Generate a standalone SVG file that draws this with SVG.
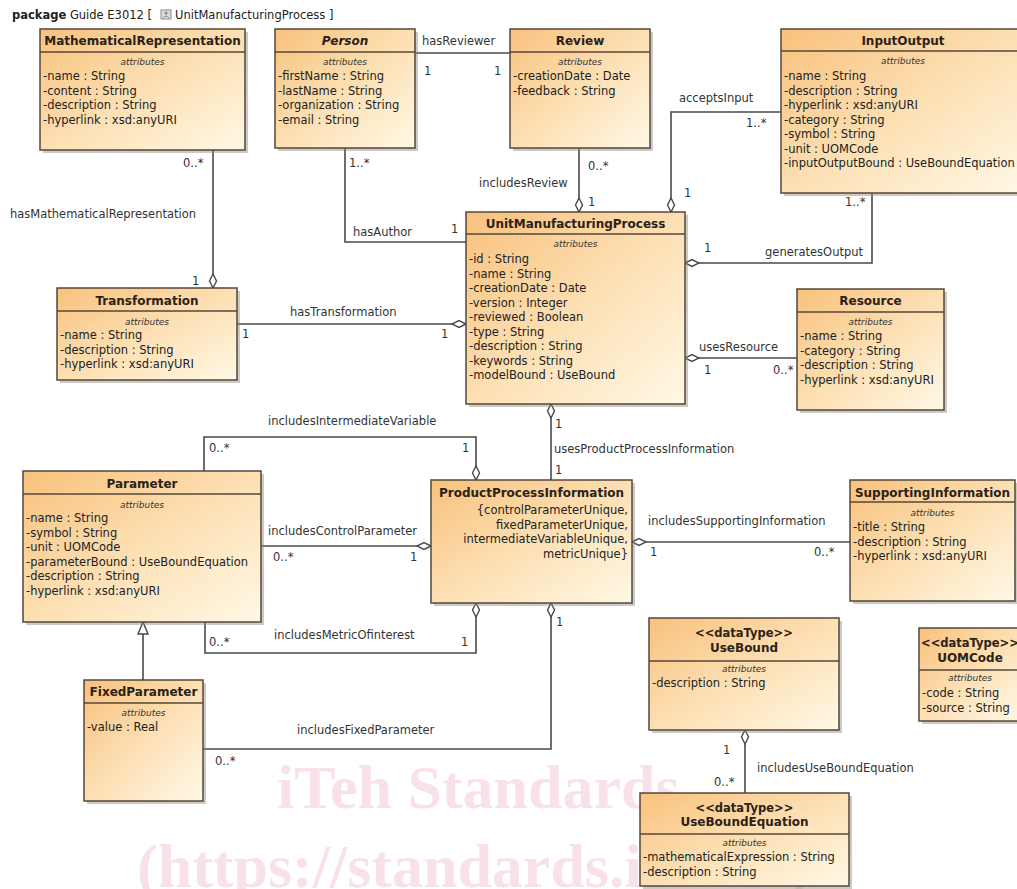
<svg xmlns="http://www.w3.org/2000/svg" width="1017" height="889" viewBox="0 0 1017 889">
<style>
  text { font-family: "DejaVu Sans", Verdana, sans-serif; fill: #222; }
  .box { fill: url(#g); stroke: #55473a; stroke-width: 1.5; }
  .sh { fill: #8f8880; opacity: 0.45; }
  .div { stroke: #55473a; stroke-width: 1.5; }
  .ttl { font-size: 12px; font-weight: bold; text-anchor: middle; fill: #2a2218; }
  .st { font-size: 11.5px; font-weight: bold; text-anchor: middle; fill: #2a2218; }
  .att { font-size: 9px; font-style: italic; text-anchor: middle; fill: #333; }
  .row { font-size: 11.5px; fill: #222; }
  .cons { font-size: 11.5px; fill: #222; text-anchor: end; }
  .lbl { font-size: 11.5px; fill: #333; }
  .hdr { font-size: 11.5px; fill: #222; }
  .con { fill: none; stroke: #4a4a4a; stroke-width: 1.6; }
  .agg { marker-start: url(#dia); }
  .wm { font-family: "Liberation Serif", "Times New Roman", serif; font-weight: bold; font-size: 62px; fill: #e0708f; opacity: 0.2; }
</style>
<defs>
  <linearGradient id="g" x1="0" y1="0" x2="1" y2="1">
    <stop offset="0" stop-color="#f8c17c"/>
    <stop offset="0.55" stop-color="#fde2b8"/>
    <stop offset="1" stop-color="#fff8e6"/>
  </linearGradient>
  <marker id="dia" markerUnits="userSpaceOnUse" viewBox="0 0 16 10" markerWidth="16" markerHeight="10" refX="1" refY="5" orient="auto">
    <path d="M1,5 L8,1.5 L15,5 L8,8.5 Z" fill="#ffffff" stroke="#4a4a4a" stroke-width="1.4"/>
  </marker>
  <marker id="tri" markerUnits="userSpaceOnUse" viewBox="0 0 14 12" markerWidth="14" markerHeight="12" refX="13" refY="6" orient="auto">
    <path d="M1,1 L13,6 L1,11 Z" fill="#ffffff" stroke="#4a4a4a" stroke-width="1.4"/>
  </marker>
</defs>
<rect x="0" y="0" width="1017" height="889" fill="#ffffff"/>

<g id="watermark">
  <text class="wm" x="277" y="808">iTeh Standards</text>
  <text class="wm" x="137" y="887">(https://standards.iteh.ai)</text>
</g>

<g id="title">
  <text class="hdr" x="12" y="19"><tspan font-weight="bold">package</tspan> Guide E3012 [</text>
  <g id="pkg-icon">
    <rect x="161" y="10" width="10" height="9" fill="#dcdcdc" stroke="#8a8a8a" stroke-width="1"/>
    <circle cx="166" cy="13" r="1.6" fill="#8a8a8a"/>
    <path d="M163,18 Q166,14 169,18" fill="none" stroke="#8a8a8a" stroke-width="1"/>
  </g>
  <text class="hdr" x="175" y="19">UnitManufacturingProcess ]</text>
</g>

<g id="connectors">
  <path id="c-hasReviewer" class="con" d="M415,53 L510,53"/>
  <path id="c-hasAuthor" class="con" d="M345,148 L345,242 L466,242"/>
  <path id="c-hasMathRep" class="con agg" d="M213,288 L213,150"/>
  <path id="c-hasTransformation" class="con agg" d="M466,324 L237,324"/>
  <path id="c-includesReview" class="con agg" d="M579,212 L579,148"/>
  <path id="c-acceptsInput" class="con agg" d="M671,212 L671,112 L781,112"/>
  <path id="c-generatesOutput" class="con agg" d="M685,263 L872,263 L872,193"/>
  <path id="c-usesResource" class="con agg" d="M685,358 L797,358"/>
  <path id="c-usesPPI" class="con agg" d="M551,404 L551,480"/>
  <path id="c-includesIntermediate" class="con agg" d="M476,480 L476,437 L204,437 L204,471"/>
  <path id="c-includesControl" class="con agg" d="M431,546 L261,546"/>
  <path id="c-includesSupporting" class="con agg" d="M632,542 L850,542"/>
  <path id="c-includesMetric" class="con agg" d="M476,603 L476,653 L205,653 L205,622"/>
  <path id="c-includesFixed" class="con agg" d="M551,603 L551,749 L203,749"/>
  <path id="c-generalization" class="con" d="M143,680 L143,622" marker-end="url(#tri)"/>
  <path id="c-includesUBE" class="con agg" d="M745,730 L745,793"/>

  <g id="connector-labels">
    <text class="lbl" x="422" y="45">hasReviewer</text>
    <text class="lbl" x="424" y="75">1</text>
    <text class="lbl" x="494" y="75">1</text>
    <text class="lbl" x="349" y="167">1..*</text>
    <text class="lbl" x="353" y="236">hasAuthor</text>
    <text class="lbl" x="451" y="233">1</text>
    <text class="lbl" x="183" y="167">0..*</text>
    <text class="lbl" x="10" y="218">hasMathematicalRepresentation</text>
    <text class="lbl" x="192" y="285">1</text>
    <text class="lbl" x="290" y="316">hasTransformation</text>
    <text class="lbl" x="242" y="338">1</text>
    <text class="lbl" x="441" y="338">1</text>
    <text class="lbl" x="588" y="170">0..*</text>
    <text class="lbl" x="479" y="187">includesReview</text>
    <text class="lbl" x="588" y="206">1</text>
    <text class="lbl" x="679" y="102">acceptsInput</text>
    <text class="lbl" x="746" y="127">1..*</text>
    <text class="lbl" x="684" y="197">1</text>
    <text class="lbl" x="845" y="206">1..*</text>
    <text class="lbl" x="704" y="252">1</text>
    <text class="lbl" x="765" y="256">generatesOutput</text>
    <text class="lbl" x="699" y="351">usesResource</text>
    <text class="lbl" x="704" y="374">1</text>
    <text class="lbl" x="773" y="374">0..*</text>
    <text class="lbl" x="555" y="428">1</text>
    <text class="lbl" x="554" y="453">usesProductProcessInformation</text>
    <text class="lbl" x="555" y="474">1</text>
    <text class="lbl" x="268" y="425">includesIntermediateVariable</text>
    <text class="lbl" x="209" y="452">0..*</text>
    <text class="lbl" x="462" y="452">1</text>
    <text class="lbl" x="268" y="535">includesControlParameter</text>
    <text class="lbl" x="273" y="561">0..*</text>
    <text class="lbl" x="410" y="561">1</text>
    <text class="lbl" x="648" y="525">includesSupportingInformation</text>
    <text class="lbl" x="650" y="556">1</text>
    <text class="lbl" x="814" y="556">0..*</text>
    <text class="lbl" x="274" y="639">includesMetricOfinterest</text>
    <text class="lbl" x="209" y="646">0..*</text>
    <text class="lbl" x="461" y="646">1</text>
    <text class="lbl" x="556" y="626">1</text>
    <text class="lbl" x="297" y="734">includesFixedParameter</text>
    <text class="lbl" x="215" y="765">0..*</text>
    <text class="lbl" x="723" y="754">1</text>
    <text class="lbl" x="757" y="772">includesUseBoundEquation</text>
    <text class="lbl" x="714" y="786">0..*</text>
  </g>
</g>

<g id="n-MathematicalRepresentation">
  <rect class="sh" x="43" y="32" width="205" height="121"/>
  <rect class="box" x="40" y="29" width="205" height="121"/>
  <line class="div" x1="40" y1="52" x2="245" y2="52"/>
  <text class="ttl" x="142.5" y="45">MathematicalRepresentation</text>
  <text class="att" x="142.5" y="65">attributes</text>
  <text class="row" x="43" y="80">-name : String</text>
  <text class="row" x="43" y="94.5">-content : String</text>
  <text class="row" x="43" y="109">-description : String</text>
  <text class="row" x="43" y="123.5">-hyperlink : xsd:anyURI</text>
</g>

<g id="n-Person">
  <rect class="sh" x="278" y="32" width="140" height="119"/>
  <rect class="box" x="275" y="29" width="140" height="119"/>
  <line class="div" x1="275" y1="52" x2="415" y2="52"/>
  <text class="ttl" x="345" y="45" font-style="italic">Person</text>
  <text class="att" x="345" y="65">attributes</text>
  <text class="row" x="278" y="80">-firstName : String</text>
  <text class="row" x="278" y="94.5">-lastName : String</text>
  <text class="row" x="278" y="109">-organization : String</text>
  <text class="row" x="278" y="123.5">-email : String</text>
</g>

<g id="n-Review">
  <rect class="sh" x="513" y="32" width="140" height="119"/>
  <rect class="box" x="510" y="29" width="140" height="119"/>
  <line class="div" x1="510" y1="52" x2="650" y2="52"/>
  <text class="ttl" x="580" y="45">Review</text>
  <text class="att" x="580" y="65">attributes</text>
  <text class="row" x="513" y="80">-creationDate : Date</text>
  <text class="row" x="513" y="94.5">-feedback : String</text>
</g>

<g id="n-InputOutput">
  <rect class="sh" x="784" y="32" width="244" height="164"/>
  <rect class="box" x="781" y="29" width="244" height="164"/>
  <line class="div" x1="781" y1="51" x2="1025" y2="51"/>
  <text class="ttl" x="903" y="45">InputOutput</text>
  <text class="att" x="903" y="64">attributes</text>
  <text class="row" x="784" y="80">-name : String</text>
  <text class="row" x="784" y="94.5">-description : String</text>
  <text class="row" x="784" y="109">-hyperlink : xsd:anyURI</text>
  <text class="row" x="784" y="123.5">-category : String</text>
  <text class="row" x="784" y="138">-symbol : String</text>
  <text class="row" x="784" y="152.5">-unit : UOMCode</text>
  <text class="row" x="784" y="167">-inputOutputBound : UseBoundEquation</text>
</g>

<g id="n-UnitManufacturingProcess">
  <rect class="sh" x="469" y="215" width="219" height="192"/>
  <rect class="box" x="466" y="212" width="219" height="192"/>
  <line class="div" x1="466" y1="234" x2="685" y2="234"/>
  <text class="ttl" x="575.5" y="228">UnitManufacturingProcess</text>
  <text class="att" x="575.5" y="247">attributes</text>
  <text class="row" x="469" y="263">-id : String</text>
  <text class="row" x="469" y="277.5">-name : String</text>
  <text class="row" x="469" y="292">-creationDate : Date</text>
  <text class="row" x="469" y="306.5">-version : Integer</text>
  <text class="row" x="469" y="321">-reviewed : Boolean</text>
  <text class="row" x="469" y="335.5">-type : String</text>
  <text class="row" x="469" y="350">-description : String</text>
  <text class="row" x="469" y="364.5">-keywords : String</text>
  <text class="row" x="469" y="379">-modelBound : UseBound</text>
</g>

<g id="n-Transformation">
  <rect class="sh" x="60" y="291" width="180" height="92"/>
  <rect class="box" x="57" y="288" width="180" height="92"/>
  <line class="div" x1="57" y1="311" x2="237" y2="311"/>
  <text class="ttl" x="147" y="305">Transformation</text>
  <text class="att" x="147" y="325">attributes</text>
  <text class="row" x="60" y="339">-name : String</text>
  <text class="row" x="60" y="353.5">-description : String</text>
  <text class="row" x="60" y="368">-hyperlink : xsd:anyURI</text>
</g>

<g id="n-Resource">
  <rect class="sh" x="800" y="292" width="147" height="121"/>
  <rect class="box" x="797" y="289" width="147" height="121"/>
  <line class="div" x1="797" y1="312" x2="944" y2="312"/>
  <text class="ttl" x="870.5" y="305">Resource</text>
  <text class="att" x="870.5" y="325">attributes</text>
  <text class="row" x="800" y="340">-name : String</text>
  <text class="row" x="800" y="354.5">-category : String</text>
  <text class="row" x="800" y="369">-description : String</text>
  <text class="row" x="800" y="383.5">-hyperlink : xsd:anyURI</text>
</g>

<g id="n-Parameter">
  <rect class="sh" x="26" y="474" width="238" height="151"/>
  <rect class="box" x="23" y="471" width="238" height="151"/>
  <line class="div" x1="23" y1="494" x2="261" y2="494"/>
  <text class="ttl" x="142" y="488">Parameter</text>
  <text class="att" x="142" y="508">attributes</text>
  <text class="row" x="26" y="522">-name : String</text>
  <text class="row" x="26" y="536.5">-symbol : String</text>
  <text class="row" x="26" y="551">-unit : UOMCode</text>
  <text class="row" x="26" y="565.5">-parameterBound : UseBoundEquation</text>
  <text class="row" x="26" y="580">-description : String</text>
  <text class="row" x="26" y="594.5">-hyperlink : xsd:anyURI</text>
</g>

<g id="n-ProductProcessInformation">
  <rect class="sh" x="434" y="483" width="201" height="123"/>
  <rect class="box" x="431" y="480" width="201" height="123"/>
  <text class="ttl" x="531.5" y="497">ProductProcessInformation</text>
  <text class="cons" x="628" y="514">{controlParameterUnique,</text>
  <text class="cons" x="628" y="528.7">fixedParameterUnique,</text>
  <text class="cons" x="628" y="543.4">intermediateVariableUnique,</text>
  <text class="cons" x="628" y="558">metricUnique}</text>
</g>

<g id="n-SupportingInformation">
  <rect class="sh" x="853" y="483" width="165" height="121"/>
  <rect class="box" x="850" y="480" width="165" height="121"/>
  <line class="div" x1="850" y1="502" x2="1015" y2="502"/>
  <text class="ttl" x="932.5" y="497">SupportingInformation</text>
  <text class="att" x="932.5" y="516">attributes</text>
  <text class="row" x="853" y="531">-title : String</text>
  <text class="row" x="853" y="545.5">-description : String</text>
  <text class="row" x="853" y="560">-hyperlink : xsd:anyURI</text>
</g>

<g id="n-FixedParameter">
  <rect class="sh" x="87" y="683" width="119" height="121"/>
  <rect class="box" x="84" y="680" width="119" height="121"/>
  <line class="div" x1="84" y1="703" x2="203" y2="703"/>
  <text class="ttl" x="143.5" y="696">FixedParameter</text>
  <text class="att" x="143.5" y="716">attributes</text>
  <text class="row" x="87" y="731">-value : Real</text>
</g>

<g id="n-UseBound">
  <rect class="sh" x="652" y="621" width="190" height="112"/>
  <rect class="box" x="649" y="618" width="190" height="112"/>
  <line class="div" x1="649" y1="661" x2="839" y2="661"/>
  <text class="st" x="744" y="637">&lt;&lt;dataType&gt;&gt;</text>
  <text class="ttl" x="744" y="652">UseBound</text>
  <text class="att" x="744" y="672">attributes</text>
  <text class="row" x="652" y="687">-description : String</text>
</g>

<g id="n-UOMCode">
  <rect class="sh" x="922" y="631" width="102" height="93"/>
  <rect class="box" x="919" y="628" width="102" height="93"/>
  <line class="div" x1="919" y1="670" x2="1021" y2="670"/>
  <text class="st" x="970" y="647">&lt;&lt;dataType&gt;&gt;</text>
  <text class="ttl" x="970" y="662">UOMCode</text>
  <text class="att" x="970" y="681">attributes</text>
  <text class="row" x="922" y="697">-code : String</text>
  <text class="row" x="922" y="711.5">-source : String</text>
</g>

<g id="n-UseBoundEquation">
  <rect class="sh" x="643" y="796" width="209" height="93"/>
  <rect class="box" x="640" y="793" width="209" height="93"/>
  <line class="div" x1="640" y1="834" x2="849" y2="834"/>
  <text class="st" x="744.5" y="812">&lt;&lt;dataType&gt;&gt;</text>
  <text class="ttl" x="744.5" y="826">UseBoundEquation</text>
  <text class="att" x="744.5" y="846">attributes</text>
  <text class="row" x="643" y="861">-mathematicalExpression : String</text>
  <text class="row" x="643" y="875.5">-description : String</text>
</g>
</svg>
